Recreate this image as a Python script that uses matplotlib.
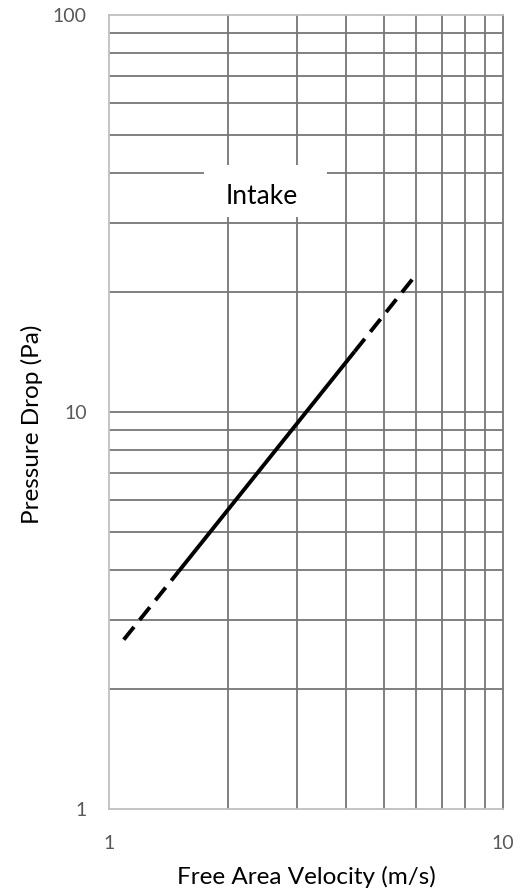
import matplotlib
matplotlib.use("Agg")
import matplotlib.pyplot as plt
from matplotlib.patches import Rectangle
from matplotlib.ticker import FixedLocator, NullFormatter, NullLocator

plt.rcParams["font.family"] = ["Lato", "DejaVu Sans"]

# pressure drop vs free area velocity (log-log)
vel_low = [1.09, 1.5]
dp_low = [2.67, 3.96]
vel_mid = [1.5, 4.2]
dp_mid = [3.96, 14.2]
vel_high = [4.2, 6.0]
dp_high = [14.2, 22.1]

x_ticks = [1, 10]
x_tick_labels = ["1", "10"]
y_ticks = [1, 10, 100]
y_tick_labels = ["1", "10", "100"]
x_grid = [2, 3, 4, 5, 6, 7, 8, 9]
y_grid = [2, 3, 4, 5, 6, 7, 8, 9, 10, 20, 30, 40, 50, 60, 70, 80, 90]

GRID = "#767676"
AXIS = "#BFBFBF"
TICK = "#595959"

fig = plt.figure(figsize=(5.29, 8.94), dpi=100)
ax = fig.add_axes([109 / 529, 1 - 809 / 894, 394 / 529, 794 / 894])
ax.set_xscale("log")
ax.set_yscale("log")
ax.set_xlim(1, 10)
ax.set_ylim(1, 100)

for v in x_grid:
    ax.axvline(v, color=GRID, lw=1.3, zorder=1)
for v in y_grid:
    ax.axhline(v, color=GRID, lw=1.3, zorder=1)

dash = dict(color="black", lw=2.8, dashes=(4.2, 2.3), dash_capstyle="butt", zorder=3)
ax.plot(vel_low, dp_low, **dash)
ax.plot(vel_mid, dp_mid, color="black", lw=2.8, solid_capstyle="butt", zorder=3)
ax.plot(vel_high, dp_high, **dash)

ax.xaxis.set_major_locator(FixedLocator(x_ticks))
ax.yaxis.set_major_locator(FixedLocator(y_ticks))
ax.xaxis.set_minor_locator(NullLocator())
ax.yaxis.set_minor_locator(NullLocator())
ax.xaxis.set_minor_formatter(NullFormatter())
ax.yaxis.set_minor_formatter(NullFormatter())
ax.set_xticklabels(x_tick_labels)
ax.set_yticklabels(y_tick_labels)
ax.tick_params(axis="both", length=0, labelsize=14, labelcolor=TICK)
ax.tick_params(axis="x", pad=19)
ax.tick_params(axis="y", pad=16)

for side in ["left", "bottom", "top"]:
    ax.spines[side].set_color(AXIS)
    ax.spines[side].set_linewidth(1.3)
ax.spines["right"].set_color(GRID)
ax.spines["right"].set_linewidth(1.3)

ax.set_xlabel("Free Area Velocity (m/s)", fontsize=17.5, color="black")
ax.set_ylabel("Pressure Drop (Pa)", fontsize=17.5, color="black")
ax.xaxis.set_label_coords(0.5, -0.072)
ax.yaxis.set_label_coords(-0.167, 0.485)

# title sits inside the plot on a white box
ax.add_patch(Rectangle((204 / 529, 1 - 217 / 894), 123 / 529, 52 / 894,
                       transform=fig.transFigure, facecolor="white",
                       edgecolor="none", zorder=4))
fig.text(262 / 529, 1 - 196 / 894, "Intake", fontsize=19, color="black",
         ha="center", va="center", zorder=5)

fig.savefig("out.png", dpi=100, facecolor="white")
